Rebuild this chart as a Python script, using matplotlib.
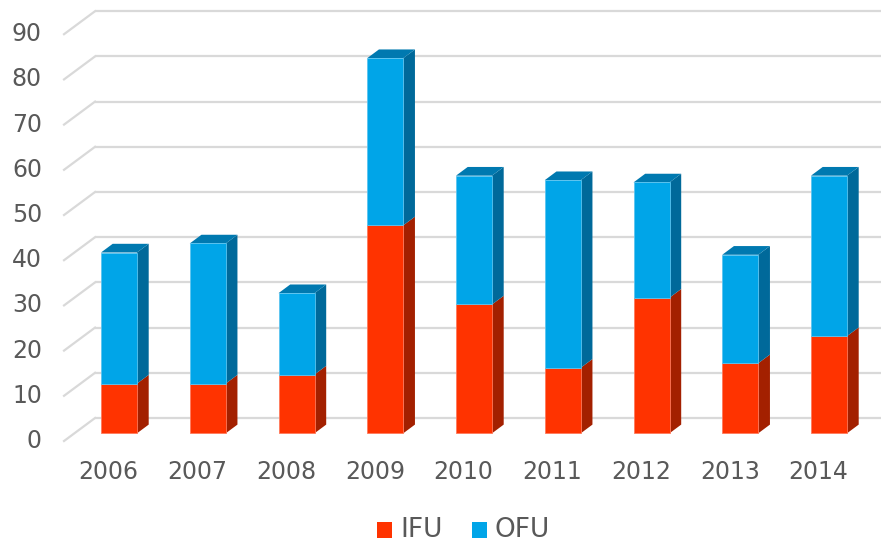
import matplotlib
matplotlib.use("Agg")
import matplotlib.pyplot as plt
from matplotlib.patches import Polygon, Rectangle

years = ["2006", "2007", "2008", "2009", "2010", "2011", "2012", "2013", "2014"]
ifu = [11, 11, 13, 46, 28.5, 14.5, 30, 15.5, 21.5]
ofu = [29, 31, 18, 37, 28.5, 41.5, 25.5, 24, 35.5]
yticks = [0, 10, 20, 30, 40, 50, 60, 70, 80, 90]
series = ["IFU", "OFU"]

# colours: front, side, top
IFU_C = ("#FF3300", "#A32000", "#C82800")
OFU_C = ("#00A5E8", "#00699A", "#0079B0")
GRID = "#D9D9D9"
TXT = "#595959"

W, H = 881, 545
fig = plt.figure(figsize=(W / 100, H / 100), dpi=100)
ax = fig.add_axes([0, 0, 1, 1])

# pixel geometry -> data mapping (category spacing, value scale)
x0px, sx = 119.0, 88.75     # px of category 0, px per category
y0px, sy = 433.3, 4.52      # px (from top) of value 0, px per unit
ax.set_xlim(-x0px / sx, (W - x0px) / sx)
ax.set_ylim((y0px - H) / sy, y0px / sy)
ax.axis("off")

def px(dx, dy):
    return dx / sx, dy / sy

bdx, bdy = px(11.7, 8.7)      # bar depth
wdx, wdy = px(20.6, 15.3)     # back wall offset from bar front
fdx, fdy = px(-10.4, -7.7)    # front floor edge offset from bar front

xl_wall = -0.27
x_right = (W - x0px) / sx

# gridlines
for v in yticks:
    ax.plot([xl_wall, x_right], [v + wdy, v + wdy], color=GRID, lw=1.6, zorder=1,
            solid_capstyle="butt")
    ax.plot([xl_wall, xl_wall - (wdx - fdx)], [v + wdy, v + fdy], color=GRID, lw=1.6,
            zorder=1)
    ax.text(-0.868, v + fdy, str(v), ha="right", va="center", fontsize=17,
            color=TXT, family="DejaVu Sans")

bw = 36 / sx
xs = list(range(len(years)))
# front faces via bar
ax.bar(xs, ifu, width=bw, color=IFU_C[0], zorder=3, edgecolor="#FF7A5C", linewidth=0.6)
ax.bar(xs, ofu, width=bw, bottom=ifu, color=OFU_C[0], zorder=3, edgecolor="#5CC4F0",
       linewidth=0.6)

for i, (a, b) in enumerate(zip(ifu, ofu)):
    xr = i + bw / 2
    xlft = i - bw / 2
    tot = a + b
    ax.add_patch(Polygon([(xr, 0), (xr + bdx, bdy), (xr + bdx, a + bdy), (xr, a)],
                         closed=True, facecolor=IFU_C[1], edgecolor="none", zorder=2.5))
    ax.add_patch(Polygon([(xr, a), (xr + bdx, a + bdy), (xr + bdx, tot + bdy), (xr, tot)],
                         closed=True, facecolor=OFU_C[1], edgecolor="none", zorder=2.5))
    ax.add_patch(Polygon([(xlft, tot), (xr, tot), (xr + bdx, tot + bdy),
                          (xlft + bdx, tot + bdy)],
                         closed=True, facecolor=OFU_C[2], edgecolor="none", zorder=2.5))
    ax.text(i + fdx, (y0px - 472) / sy, years[i], ha="center", va="center",
            fontsize=17, color=TXT)

# legend
leg_y = (y0px - 530) / sy
sq_w, sq_h = 15 / sx, 16 / sy
for (x_sq, lab, col) in [(377, series[0], IFU_C[0]), (472, series[1], OFU_C[0])]:
    xd = (x_sq - x0px) / sx
    ax.add_patch(Rectangle((xd, leg_y - sq_h / 2), sq_w, sq_h, facecolor=col,
                           edgecolor="none", zorder=3))
    ax.text(xd + 23 / sx, leg_y, lab, ha="left", va="center", fontsize=19, color=TXT)

fig.savefig("out.png", dpi=100, facecolor="white")
